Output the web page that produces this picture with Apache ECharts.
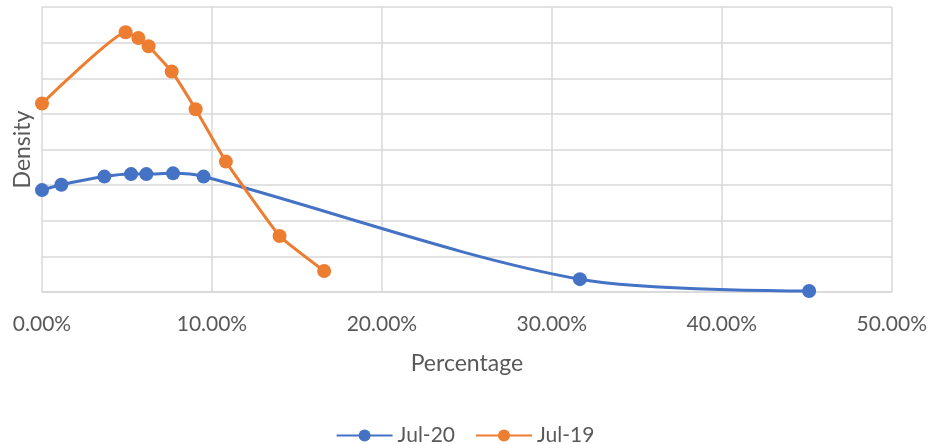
<!DOCTYPE html>
<html>
<head>
<meta charset="utf-8">
<script src="https://cdn.jsdelivr.net/npm/echarts@6/dist/echarts.min.js"></script>
<style>html,body{margin:0;padding:0;background:#fff}#c{width:930px;height:444px}</style>
</head>
<body>
<div id="c"></div>
<script>
// Percentage (x, in %) and density (y, arbitrary units)
const jul20X = [0, 1.14, 3.67, 5.24, 6.14, 7.71, 9.51, 31.65, 45.14];
const jul20Y = [2.86, 3.01, 3.24, 3.31, 3.31, 3.33, 3.24, 0.36, 0.03];
const jul19X = [0, 4.92, 5.67, 6.27, 7.63, 9.04, 10.82, 13.98, 16.6];
const jul19Y = [5.29, 7.29, 7.13, 6.90, 6.19, 5.13, 3.66, 1.57, 0.59];
const seriesNames = ['Jul-20', 'Jul-19'];
const xTicks = [0, 10, 20, 30, 40, 50];

const pairs = (xs, ys) => xs.map((x, i) => [x, ys[i]]);
const font = 'Lato, "Open Sans", sans-serif';
const chart = echarts.init(document.getElementById('c'));
chart.setOption({
  animation: false,
  color: ['#4472C4', '#ED7D31'],
  grid: { left: 42, right: 38, top: 7, bottom: 152 },
  legend: {
    top: 420, left: 'center', itemWidth: 56, itemHeight: 15, itemGap: 20,
    textStyle: { fontFamily: font, fontSize: 21, color: '#595959' },
    data: seriesNames
  },
  xAxis: {
    type: 'value', min: xTicks[0], max: xTicks[xTicks.length - 1], interval: 10,
    name: 'Percentage', nameLocation: 'middle', nameGap: 60,
    nameTextStyle: { fontFamily: font, fontSize: 23, color: '#595959' },
    axisLine: { show: true, lineStyle: { color: '#D9D9D9', width: 1.5 } },
    axisTick: { show: false },
    axisLabel: { margin: 22, fontFamily: font, fontSize: 21, color: '#595959',
      formatter: v => v.toFixed(2) + '%' },
    splitLine: { show: true, lineStyle: { color: '#D9D9D9', width: 1.5 } }
  },
  yAxis: {
    type: 'value', min: 0, max: 8, interval: 1,
    name: 'Density', nameLocation: 'middle', nameGap: 8,
    nameTextStyle: { fontFamily: font, fontSize: 23, color: '#595959' },
    axisLine: { show: false }, axisTick: { show: false },
    axisLabel: { show: false },
    splitLine: { show: true, lineStyle: { color: '#D9D9D9', width: 1.5 } }
  },
  series: [
    { name: seriesNames[0], type: 'line', data: pairs(jul20X, jul20Y), smooth: 0.3,
      symbol: 'circle', symbolSize: 14, lineStyle: { width: 3 } },
    { name: seriesNames[1], type: 'line', data: pairs(jul19X, jul19Y), smooth: 0.12,
      symbol: 'circle', symbolSize: 14, lineStyle: { width: 3 } }
  ]
});
</script>
</body>
</html>
